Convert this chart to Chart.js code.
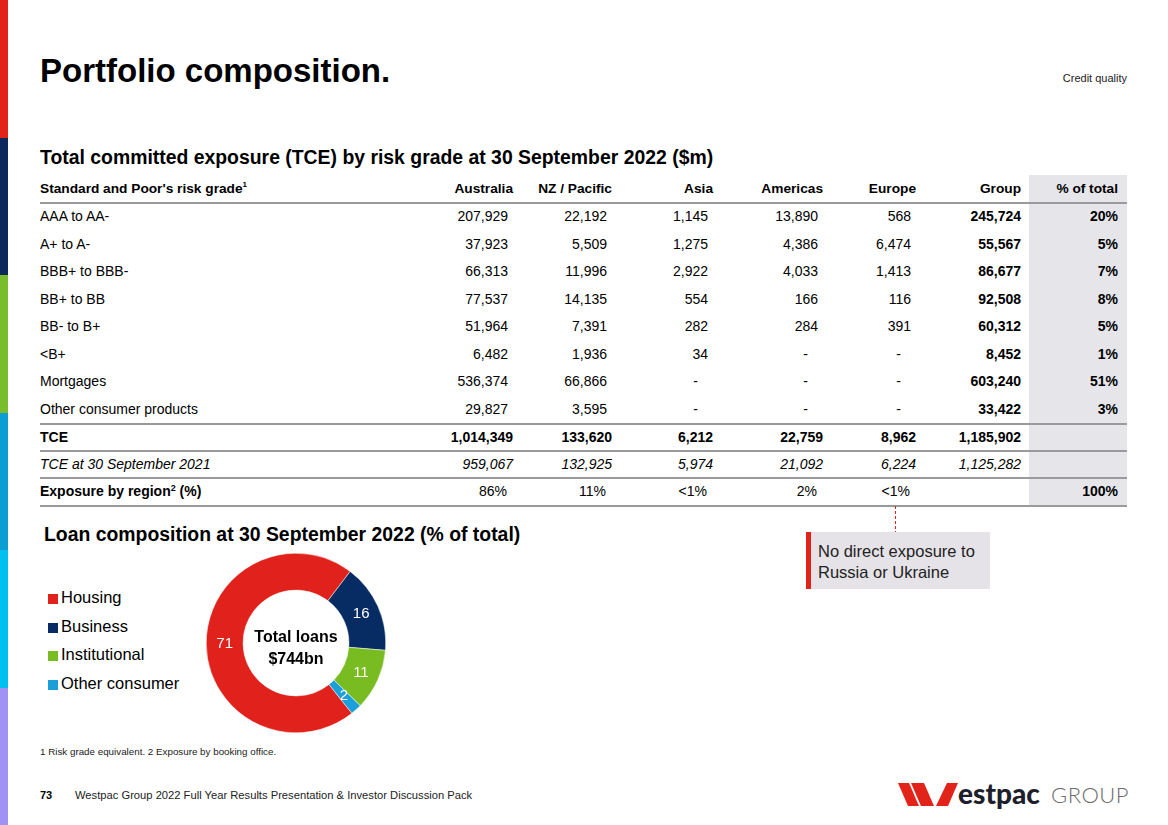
<!DOCTYPE html>
<html>
<head>
<meta charset="utf-8">
<title>Portfolio composition</title>
<script src="https://cdn.jsdelivr.net/npm/chart.js@4.4.0/dist/chart.umd.min.js"></script>
<style>
  html, body { margin: 0; padding: 0; }
  body {
    width: 1168px; height: 825px; position: relative; overflow: hidden;
    background: #fff; color: #000;
    font-family: "Liberation Sans", Arial, sans-serif;
  }
  .abs { position: absolute; white-space: nowrap; }
  .stripe { position: absolute; left: 0; width: 8px; }
  .title { left: 40px; top: 52px; font-size: 33px; font-weight: bold; }
  .section { font-size: 19.4px; font-weight: bold; }
  .cell { position: absolute; font-size: 14px; white-space: nowrap; }
  .rule { position: absolute; left: 40px; width: 1087px; background: #9a9a9a; }
  .legend-item { position: absolute; left: 48px; font-size: 16.5px; white-space: nowrap; }
  .legend-item span.box { position: absolute; left: 0; top: 6px; width: 10px; height: 10px; }
  .legend-item span.txt { position: absolute; left: 13px; top: 0; }
</style>
</head>
<body>

<div class="stripe" style="top:0;height:138px;background:#e2231a"></div>
<div class="stripe" style="top:138px;height:137px;background:#0b2a5b"></div>
<div class="stripe" style="top:275px;height:138px;background:#79bc2c"></div>
<div class="stripe" style="top:413px;height:137px;background:#0c9ed3"></div>
<div class="stripe" style="top:550px;height:138px;background:#00c0ef"></div>
<div class="stripe" style="top:688px;height:137px;background:#a092f5"></div>

<div class="abs title">Portfolio composition.</div>
<div class="abs" style="right:41px; top:72px; font-size:11px; color:#222;">Credit quality</div>

<div class="abs section" style="left:40px; top:146px;">Total committed exposure (TCE) by risk grade at 30 September 2022 ($m)</div>

<div id="tbl"></div>

<div class="abs section" style="left:44px; top:523px;">Loan composition at 30 September 2022 (% of total)</div>

<div id="legend"></div>

<canvas id="loanChart" width="180" height="180" style="position:absolute; left:206px; top:553px;"></canvas>
<div class="abs" style="left:216px; width:160px; top:626px; text-align:center; font-size:16px; font-weight:bold; line-height:22px;">Total loans<br>$744bn</div>

<div class="abs" style="left:895px; top:506px; width:1px; height:26px; background:repeating-linear-gradient(to bottom, #e2231a 0, #e2231a 3px, transparent 3px, transparent 5px);"></div>
<div class="abs" style="left:806px; top:532px; width:184px; height:57px; background:#e5e3e8;">
  <div style="position:absolute; left:0; top:0; width:5px; height:57px; background:#e2231a;"></div>
  <div style="position:absolute; left:12px; top:9px; font-size:16.5px; line-height:21px; color:#222;">No direct exposure to<br>Russia or Ukraine</div>
</div>

<div class="abs" style="left:40px; top:746px; font-size:9.8px; color:#222;">1 Risk grade equivalent. 2 Exposure by booking office.</div>
<div class="abs" style="left:40px; top:789px; font-size:11px; font-weight:bold;">73</div>
<div class="abs" style="left:75px; top:789px; font-size:11.2px; color:#222;">Westpac Group 2022 Full Year Results Presentation &amp; Investor Discussion Pack</div>

<svg class="abs" style="left:898px; top:781px;" width="62" height="27" viewBox="0 0 62 27">
  <polygon points="0,2 11,2 21,25 10,25" fill="#e2231a"/>
  <polygon points="13,2 26,2 36,25 23,25" fill="#e2231a"/>
  <polygon points="38,25 49,2 60,2 50,25" fill="#e2231a"/>
</svg>
<div class="abs" style="left:958px; top:776px; font-family:Lato, sans-serif; font-weight:900; font-size:28px; color:#1e1e2c;">estpac</div>
<div class="abs" style="left:1051px; top:781px; font-family:Lato, sans-serif; font-weight:300; font-size:22px; color:#6b6b6b; letter-spacing:0.5px;">GROUP</div>

<script>
// Table data ($m)
const columns = ['Australia', 'NZ / Pacific', 'Asia', 'Americas', 'Europe', 'Group', '% of total'];
const riskGrades = ['AAA to AA-', 'A+ to A-', 'BBB+ to BBB-', 'BB+ to BB', 'BB- to B+', '<B+', 'Mortgages', 'Other consumer products'];
const australia = [207929, 37923, 66313, 77537, 51964, 6482, 536374, 29827];
const nzPacific = [22192, 5509, 11996, 14135, 7391, 1936, 66866, 3595];
const asia = [1145, 1275, 2922, 554, 282, 34, null, null];
const americas = [13890, 4386, 4033, 166, 284, null, null, null];
const europe = [568, 6474, 1413, 116, 391, null, null, null];
const group = [245724, 55567, 86677, 92508, 60312, 8452, 603240, 33422];
const pctOfTotal = [20, 5, 7, 8, 5, 1, 51, 3];
const tce2022 = [1014349, 133620, 6212, 22759, 8962, 1185902];
const tce2021 = [959067, 132925, 5974, 21092, 6224, 1125282];
const exposureByRegion = ['86%', '11%', '<1%', '2%', '<1%'];

// Loan composition (% of total)
const loanCategories = ['Housing', 'Business', 'Institutional', 'Other consumer'];
const loanShares = [71, 16, 11, 2];
const loanColors = ['#e1211b', '#062c63', '#78bc22', '#1a9fd9'];

const tbl = document.getElementById('tbl');
const colRight = [513, 612, 713, 823, 916, 1021, 1118];

function fmt(v) {
    return v === null ? '-' : v.toLocaleString('en-US');
}

function cell(text, left, right, top, h, style) {
    const d = document.createElement('div');
    d.className = 'cell';
    d.style.top = top + 'px';
    d.style.height = h + 'px';
    d.style.lineHeight = h + 'px';
    if (left !== null) {
        d.style.left = left + 'px';
    } else {
        d.style.right = (1168 - right) + 'px';
    }
    if (style) d.style.cssText += style;
    d.innerHTML = text;
    tbl.appendChild(d);
}

function rule(y, h) {
    const r = document.createElement('div');
    r.className = 'rule';
    r.style.top = y + 'px';
    r.style.height = h + 'px';
    tbl.appendChild(r);
}

// shaded % of total column
const shade = document.createElement('div');
shade.style.cssText = 'position:absolute;left:1029px;top:175px;width:98px;height:331px;background:#e6e5ea;';
tbl.appendChild(shade);

// header
cell('Standard and Poor\'s risk grade<sup style="font-size:8px;vertical-align:6px;line-height:0">1</sup>', 40, null, 175, 28, 'font-weight:bold;font-size:13.7px;');
columns.forEach((c, i) => cell(c, null, colRight[i], 175, 28, 'font-weight:bold;font-size:13.7px;'));
rule(202, 2);

// risk grade rows
const rowH = 27.5;
riskGrades.forEach((g, r) => {
    const y = 203 + r * rowH;
    cell(g.replace('<', '&lt;'), 40, null, y, rowH);
    const regional = [australia[r], nzPacific[r], asia[r], americas[r], europe[r]];
    regional.forEach((v, i) => {
        const pad = v === null ? 15 : 5;
        cell(fmt(v), null, colRight[i] - pad, y, rowH);
    });
    cell(fmt(group[r]), null, colRight[5], y, rowH, 'font-weight:bold;');
    cell(pctOfTotal[r] + '%', null, colRight[6], y, rowH, 'font-weight:bold;');
});
rule(423, 2);

// TCE 2022
cell('TCE', 40, null, 424, 27, 'font-weight:bold;');
tce2022.forEach((v, i) => cell(fmt(v), null, colRight[i], 424, 27, 'font-weight:bold;'));
rule(450, 2);

// TCE 2021
cell('TCE at 30 September 2021', 40, null, 451, 27, 'font-style:italic;');
tce2021.forEach((v, i) => cell(fmt(v), null, colRight[i], 451, 27, 'font-style:italic;'));
rule(477, 2);

// exposure by region
cell('Exposure by region<sup style="font-size:9px;vertical-align:5px;line-height:0">2</sup> (%)', 40, null, 478, 27, 'font-weight:bold;');
exposureByRegion.forEach((v, i) => cell(v.replace('<', '&lt;'), null, colRight[i] - 6, 478, 27));
cell('100%', null, colRight[6], 478, 27, 'font-weight:bold;');
rule(505, 2);

// legend
const legend = document.getElementById('legend');
loanCategories.forEach((c, i) => {
    const item = document.createElement('div');
    item.className = 'legend-item';
    item.style.top = (588 + i * 28.7) + 'px';
    item.innerHTML = '<span class="box" style="background:' + loanColors[i] + '"></span><span class="txt">' + c + '</span>';
    legend.appendChild(item);
});

// slice value labels
const sliceLabels = {
    id: 'sliceLabels',
    afterDatasetsDraw(chart) {
        const ctx = chart.ctx;
        const meta = chart.getDatasetMeta(0);
        ctx.save();
        ctx.fillStyle = '#ffffff';
        ctx.font = '15px "Liberation Sans", Arial, sans-serif';
        ctx.textAlign = 'center';
        ctx.textBaseline = 'middle';
        meta.data.forEach((arc, i) => {
            const p = arc.tooltipPosition();
            ctx.fillText(String(chart.data.datasets[0].data[i]), p.x, p.y);
        });
        ctx.restore();
    }
};

new Chart(document.getElementById('loanChart'), {
    type: 'doughnut',
    data: {
        labels: loanCategories,
        datasets: [{
            data: loanShares,
            backgroundColor: loanColors,
            borderColor: '#ffffff',
            borderWidth: 0.5
        }]
    },
    options: {
        responsive: false,
        animation: false,
        cutout: '59%',
        rotation: 141.5,
        layout: { padding: 0 },
        plugins: {
            legend: { display: false },
            tooltip: { enabled: false }
        }
    },
    plugins: [sliceLabels]
});
</script>
</body>
</html>
